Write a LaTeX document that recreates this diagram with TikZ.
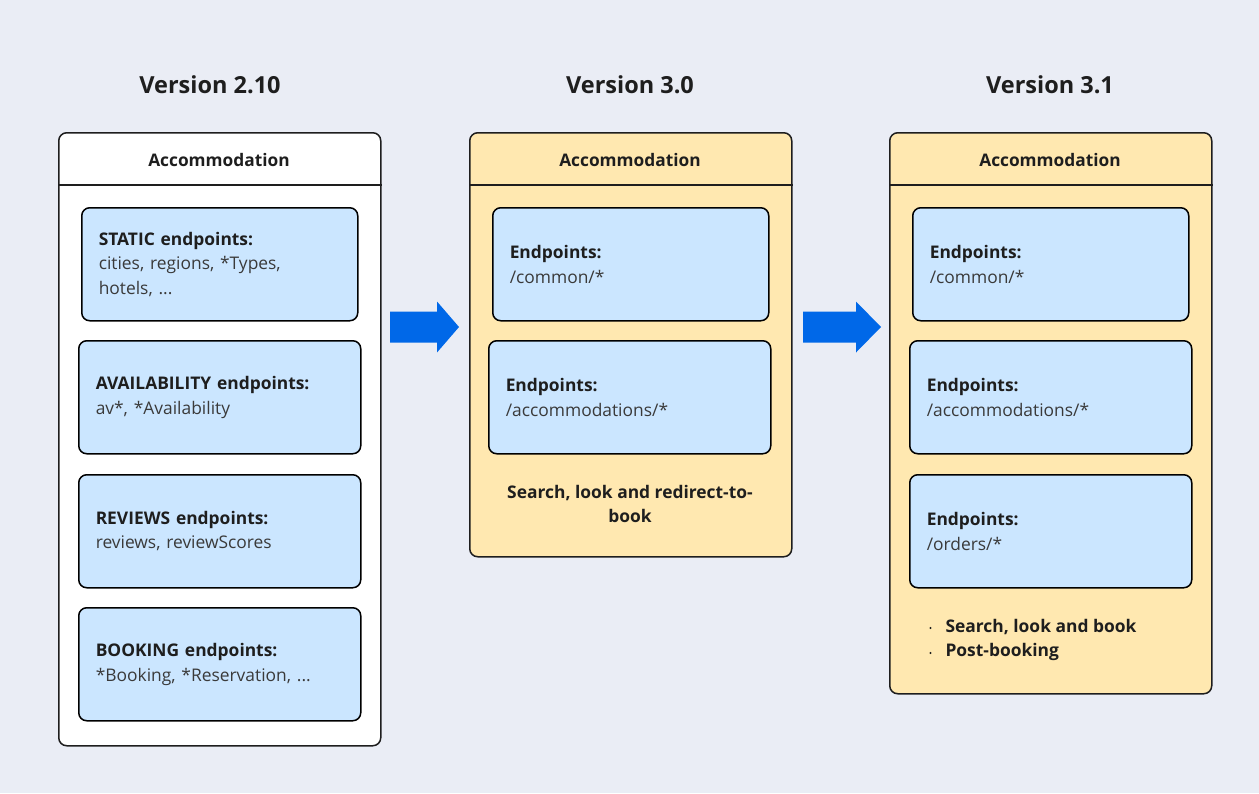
\documentclass[tikz,border=0pt]{standalone}
\usepackage{fontspec}
\setmainfont{Open Sans}
\definecolor{bg}{RGB}{234,237,245}
\definecolor{cream}{RGB}{255,232,176}
\definecolor{lblue}{RGB}{203,230,255}
\definecolor{arrowblue}{RGB}{0,104,232}
\definecolor{ink}{RGB}{30,30,30}
\definecolor{txt}{RGB}{58,58,58}
\begin{document}
\begin{tikzpicture}[x=1pt,y=-1pt,
  panel/.style={draw=ink, line width=1.5pt, rounded corners=8pt, anchor=north west, minimum width=322pt, inner sep=0pt},
  sep/.style={draw=ink, line width=1.5pt},
  hdr/.style={font=\fontsize{17.3}{20}\selectfont\bfseries, text=ink},
  title/.style={font=\fontsize{23.5}{27}\selectfont\bfseries, text=ink},
  ep/.style={draw=black, line width=1.5pt, rounded corners=8pt, fill=lblue, inner xsep=17pt, inner ysep=0pt, align=left, anchor=north west, minimum height=113pt, font=\fontsize{17.4}{24.5}\selectfont, text=txt},
  epw/.style={ep, minimum width=276pt, text width=242pt},
  epx/.style={ep, minimum width=282pt, text width=248pt},
  bigarrow/.style={fill=arrowblue},
  note/.style={font=\fontsize{17.4}{24.5}\selectfont\bfseries, text=ink, align=center},
  bul/.style={font=\fontsize{17.4}{25}\selectfont\bfseries, text=ink, anchor=west}
]
\useasboundingbox (0,0) rectangle (1259,793);
\fill[bg] (0,0) rectangle (1259,793);

% titles
\node[title] (t1) at (210,85) {Version 2.10};
\node[title] (t2) at (630,85) {Version 3.0};
\node[title] (t3) at (1050,85) {Version 3.1};

% panel 1
\node[panel, fill=white, minimum height=613pt] (p1) at (58,132) {};
\draw[sep] ([yshift=-53pt]p1.north west) -- ([yshift=-53pt]p1.north east);
\node[hdr] (h1) at (219,160) {Accommodation};
\node[epw] (s1) at (81,207) {{\color{ink}\bfseries STATIC endpoints:}\\cities, regions, *Types,\\hotels, ...};
\node[epx] (a1) at (78,340) {{\color{ink}\bfseries AVAILABILITY endpoints:}\\{}av*, *Availability};
\node[epx] (r1) at (78,474) {{\color{ink}\bfseries REVIEWS endpoints:}\\{}reviews, reviewScores};
\node[epx] (b1) at (78,607) {{\color{ink}\bfseries BOOKING endpoints:}\\{}*Booking, *Reservation, ...};

% panel 2
\node[panel, fill=cream, minimum height=424pt] (p2) at (469,132) {};
\draw[sep] ([yshift=-53pt]p2.north west) -- ([yshift=-53pt]p2.north east);
\node[hdr] (h2) at (630,160) {Accommodation};
\node[epw] (c2) at (492,207) {{\color{ink}\bfseries Endpoints:}\\{}/common/*};
\node[epx] (m2) at (488,340) {{\color{ink}\bfseries Endpoints:}\\{}/accommodations/*};
\node[note] (n2) at (630,504) {Search, look and redirect-to-\\book};

% panel 3
\node[panel, fill=cream, minimum height=561pt] (p3) at (889,132) {};
\draw[sep] ([yshift=-53pt]p3.north west) -- ([yshift=-53pt]p3.north east);
\node[hdr] (h3) at (1050,160) {Accommodation};
\node[epw] (c3) at (912,207) {{\color{ink}\bfseries Endpoints:}\\{}/common/*};
\node[epx] (m3) at (909,340) {{\color{ink}\bfseries Endpoints:}\\{}/accommodations/*};
\node[epx] (o3) at (909,474) {{\color{ink}\bfseries Endpoints:}\\{}/orders/*};
\fill[ink] (930.5,628) circle (1.1pt);
\fill[ink] (930.5,653) circle (1.1pt);
\node[bul] (l1) at (942,627) {Search, look and book};
\node[bul] (l2) at (942,652) {Post-booking};

% arrows
\coordinate (ar1) at (390,327);
\coordinate (ar2) at (803,327);
\fill[bigarrow] (ar1) ++(0,-15.5) -- ++(47,0) -- ++(0,-10) -- ++(22,25.5) -- ++(-22,25.5) -- ++(0,-10) -- ++(-47,0) -- cycle;
\fill[bigarrow] (ar2) ++(0,-15.5) -- ++(53,0) -- ++(0,-10) -- ++(25,25.5) -- ++(-25,25.5) -- ++(0,-10) -- ++(-53,0) -- cycle;
\end{tikzpicture}
\end{document}
